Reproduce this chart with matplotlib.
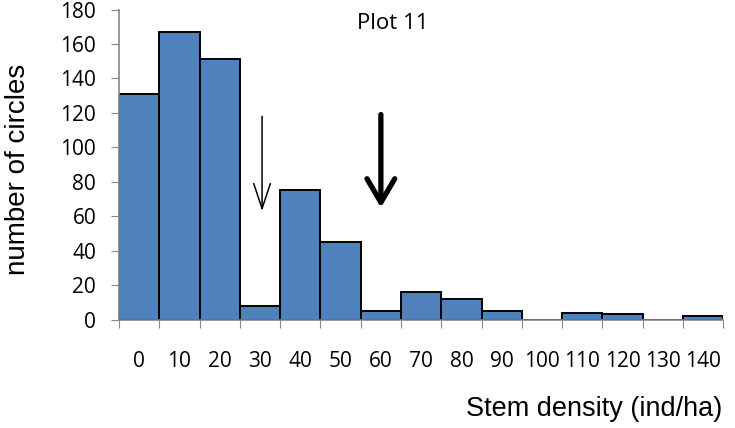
import matplotlib
matplotlib.use('Agg')
import matplotlib.pyplot as plt
import numpy as np

plt.rcParams['font.family'] = ['Open Sans', 'DejaVu Sans']

categories = ['0', '10', '20', '30', '40', '50', '60', '70', '80', '90',
              '100', '110', '120', '130', '140']
counts = [131, 167, 151, 8, 75, 45, 5, 16, 12, 5, 0, 4, 3, 0, 2]

fig = plt.figure(figsize=(7.35, 4.28), dpi=100)
ax = fig.add_axes([0.162, 0.2535, 0.822, 0.7243])

pos = np.arange(len(categories))
ax.bar(pos, counts, width=1.0, align='edge', color='#4F81BD',
       edgecolor='black', linewidth=1.4)

ax.set_xlim(0, len(categories))
ax.set_ylim(0, 180)
ax.set_yticks(range(0, 181, 20))
ax.tick_params(axis='y', direction='out', length=5.5, color='#868686',
               labelsize=15, pad=11)

# boundary ticks without labels, category labels centred under bars
ax.set_xticks(range(len(categories) + 1))
ax.set_xticklabels([])
ax.set_xticks(pos + 0.5, minor=True)
ax.set_xticklabels(categories, minor=True)
ax.tick_params(axis='x', which='major', direction='out', length=5.5,
               color='#868686')
ax.tick_params(axis='x', which='minor', length=0, labelsize=15, pad=23)

for s in ['top', 'right']:
    ax.spines[s].set_visible(False)
for s in ['left', 'bottom']:
    ax.spines[s].set_color('#868686')
    ax.spines[s].set_linewidth(1.2)

fig.text(18 / 735, 0.605, 'number of circles', fontsize=20,
         family='Liberation Sans', rotation=90, ha='center', va='center')
fig.text(0.983, 0.015, 'Stem density (ind/ha)', fontsize=19.5,
         family='Liberation Sans', ha='right', va='bottom')
ax.text(6.8, 172, 'Plot 11', fontsize=16, ha='center', va='center')

# arrows
ax.annotate('', xy=(3.55, 63), xytext=(3.55, 118),
            arrowprops=dict(arrowstyle='->,head_length=1.8,head_width=0.6',
                            lw=1.1, color='black', mutation_scale=10,
                            shrinkA=0, shrinkB=0))
ax.annotate('', xy=(6.5, 65), xytext=(6.5, 119),
            arrowprops=dict(arrowstyle='->,head_length=1.7,head_width=1.0',
                            lw=3.8, color='black', mutation_scale=10,
                            shrinkA=0, shrinkB=0))

fig.savefig('out.png', dpi=100)
